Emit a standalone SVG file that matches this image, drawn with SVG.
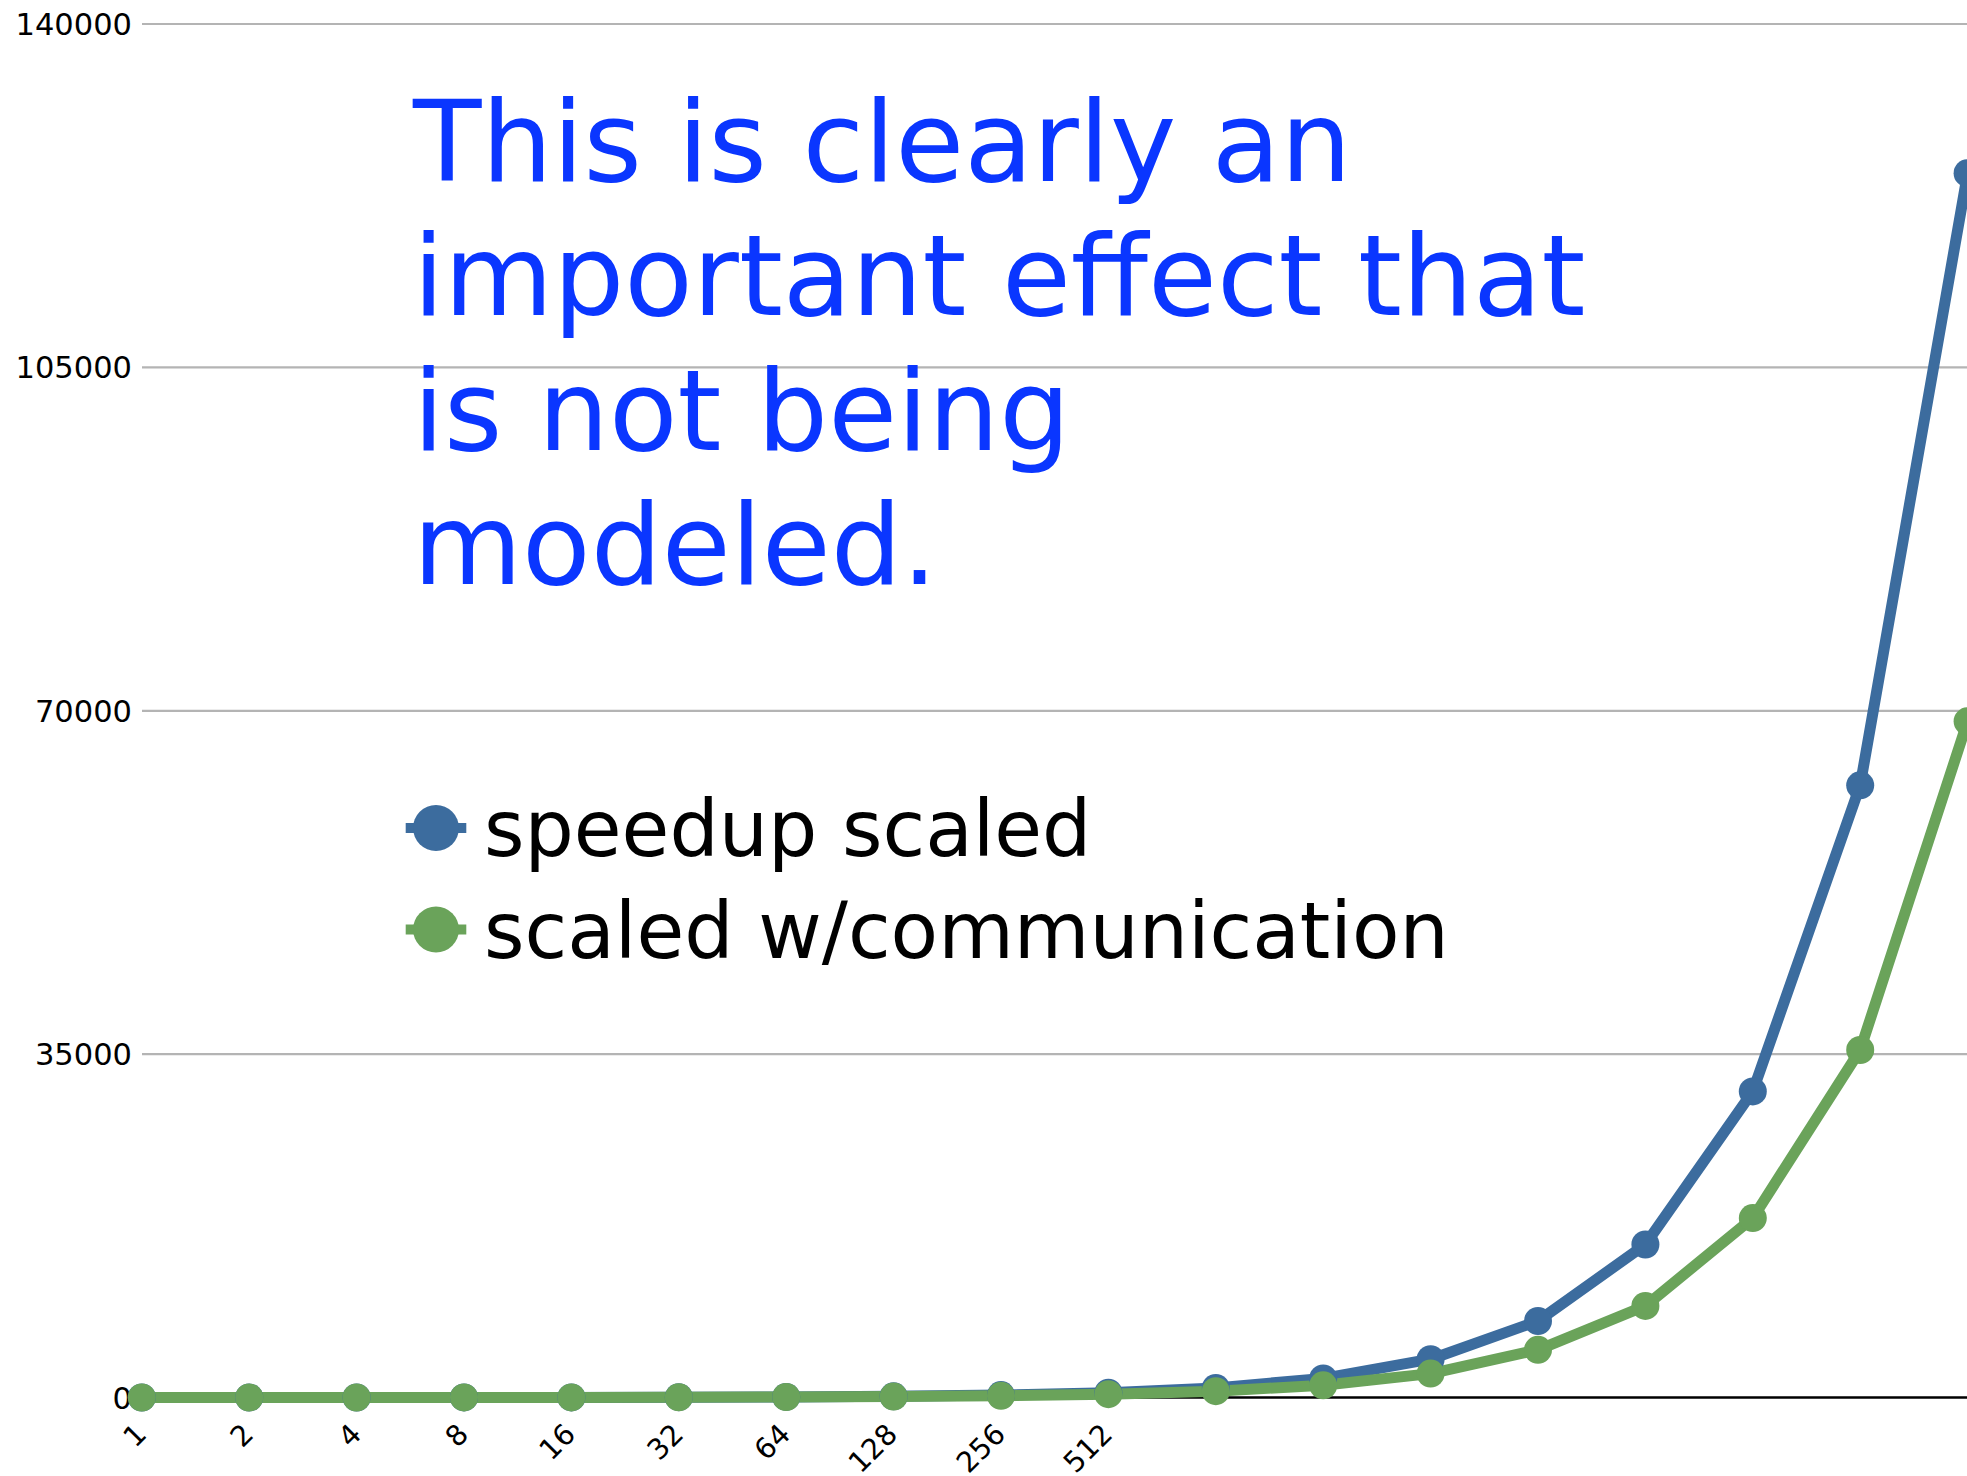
<svg xmlns="http://www.w3.org/2000/svg" width="1967" height="1476" viewBox="0 0 1967 1476">
<style>
  .grid { stroke: #b4b4b4; stroke-width: 2.2; }
  .axis { stroke: #000; stroke-width: 2.5; }
  .ylab { font-family: "DejaVu Sans", sans-serif; font-size: 30.5px; fill: #000; text-anchor: end; }
  .xlab { font-family: "DejaVu Sans", sans-serif; font-size: 28.5px; fill: #000; text-anchor: end; }
  .title { font-family: "DejaVu Sans", sans-serif; font-size: 112px; fill: #0a36ff; }
  .leg { font-family: "DejaVu Sans", sans-serif; font-size: 77.7px; fill: #000; }
  .blue { stroke: #3c6c9e; fill: none; stroke-width: 11; stroke-linejoin: round; }
  .green { stroke: #6aa35a; fill: none; stroke-width: 11; stroke-linejoin: round; }
  .bm { fill: #3c6c9e; }
  .gm { fill: #6aa35a; }
</style>
<rect x="0" y="0" width="1967" height="1476" fill="#fff"/>
<g id="gridlines">
  <line class="grid" x1="142" y1="24" x2="1967" y2="24"/>
  <line class="grid" x1="142" y1="367.4" x2="1967" y2="367.4"/>
  <line class="grid" x1="142" y1="710.8" x2="1967" y2="710.8"/>
  <line class="grid" x1="142" y1="1054.1" x2="1967" y2="1054.1"/>
  <line class="axis" x1="142" y1="1397.5" x2="1967" y2="1397.5"/>
</g>
<g id="y-labels">
  <text class="ylab" x="132" y="35">140000</text>
  <text class="ylab" x="132" y="378.4">105000</text>
  <text class="ylab" x="132" y="721.8">70000</text>
  <text class="ylab" x="132" y="1065.1">35000</text>
  <text class="ylab" x="132" y="1408.5">0</text>
</g>
<g id="x-labels">
  <text class="xlab" transform="translate(148,1436) rotate(-45)">1</text>
  <text class="xlab" transform="translate(255,1436) rotate(-45)">2</text>
  <text class="xlab" transform="translate(363,1436) rotate(-45)">4</text>
  <text class="xlab" transform="translate(470,1436) rotate(-45)">8</text>
  <text class="xlab" transform="translate(577,1436) rotate(-45)">16</text>
  <text class="xlab" transform="translate(685,1436) rotate(-45)">32</text>
  <text class="xlab" transform="translate(792,1436) rotate(-45)">64</text>
  <text class="xlab" transform="translate(899,1436) rotate(-45)">128</text>
  <text class="xlab" transform="translate(1007,1436) rotate(-45)">256</text>
  <text class="xlab" transform="translate(1114,1436) rotate(-45)">512</text>
</g>
<g id="connectors">
  <polyline id="series-speedup" class="blue" points="141.8,1397.5 249.2,1397.5 356.6,1397.5 464,1397.4 571.4,1397.4 678.8,1397.2 786.2,1396.9 893.6,1396.3 1001,1395.1 1108.4,1392.7 1215.8,1387.9 1323.2,1378.4 1430.6,1359.2 1538,1321 1645.4,1244.5 1752.8,1091.4 1860.2,785.3 1967.6,173.2"/>
  <polyline id="series-comm" class="green" points="141.8,1397.5 249.2,1397.5 356.6,1397.5 464,1397.4 571.4,1397.4 678.8,1397.3 786.2,1397 893.6,1396.6 1001,1395.8 1108.4,1394.2 1215.8,1391.2 1323.2,1385.3 1430.6,1373.6 1538,1349.8 1645.4,1305.9 1752.8,1218.1 1860.2,1050 1967.6,721.3"/>
</g>
<g id="markers-speedup">
  <circle class="bm" cx="141.8" cy="1397.5" r="14"/>
  <circle class="bm" cx="249.2" cy="1397.5" r="14"/>
  <circle class="bm" cx="356.6" cy="1397.5" r="14"/>
  <circle class="bm" cx="464" cy="1397.4" r="14"/>
  <circle class="bm" cx="571.4" cy="1397.4" r="14"/>
  <circle class="bm" cx="678.8" cy="1397.2" r="14"/>
  <circle class="bm" cx="786.2" cy="1396.9" r="14"/>
  <circle class="bm" cx="893.6" cy="1396.3" r="14"/>
  <circle class="bm" cx="1001" cy="1395.1" r="14"/>
  <circle class="bm" cx="1108.4" cy="1392.7" r="14"/>
  <circle class="bm" cx="1215.8" cy="1387.9" r="14"/>
  <circle class="bm" cx="1323.2" cy="1378.4" r="14"/>
  <circle class="bm" cx="1430.6" cy="1359.2" r="14"/>
  <circle class="bm" cx="1538" cy="1321" r="14"/>
  <circle class="bm" cx="1645.4" cy="1244.5" r="14"/>
  <circle class="bm" cx="1752.8" cy="1091.4" r="14"/>
  <circle class="bm" cx="1860.2" cy="785.3" r="14"/>
  <circle class="bm" cx="1967.6" cy="173.2" r="14"/>
</g>
<g id="markers-comm">
  <circle class="gm" cx="141.8" cy="1397.5" r="14"/>
  <circle class="gm" cx="249.2" cy="1397.5" r="14"/>
  <circle class="gm" cx="356.6" cy="1397.5" r="14"/>
  <circle class="gm" cx="464" cy="1397.4" r="14"/>
  <circle class="gm" cx="571.4" cy="1397.4" r="14"/>
  <circle class="gm" cx="678.8" cy="1397.3" r="14"/>
  <circle class="gm" cx="786.2" cy="1397" r="14"/>
  <circle class="gm" cx="893.6" cy="1396.6" r="14"/>
  <circle class="gm" cx="1001" cy="1395.8" r="14"/>
  <circle class="gm" cx="1108.4" cy="1394.2" r="14"/>
  <circle class="gm" cx="1215.8" cy="1391.2" r="14"/>
  <circle class="gm" cx="1323.2" cy="1385.3" r="14"/>
  <circle class="gm" cx="1430.6" cy="1373.6" r="14"/>
  <circle class="gm" cx="1538" cy="1349.8" r="14"/>
  <circle class="gm" cx="1645.4" cy="1305.9" r="14"/>
  <circle class="gm" cx="1752.8" cy="1218.1" r="14"/>
  <circle class="gm" cx="1860.2" cy="1050" r="14"/>
  <circle class="gm" cx="1967.6" cy="721.3" r="14"/>
</g>
<g id="title">
  <text class="title" x="413" y="181">This is clearly an</text>
  <text class="title" x="413" y="315.4">important effect that</text>
  <text class="title" x="413" y="449.8">is not being</text>
  <text class="title" x="413" y="584.2">modeled.</text>
</g>
<g id="legend">
  <g id="legend-speedup">
    <line x1="405.7" y1="828" x2="466.3" y2="828" stroke="#3c6c9e" stroke-width="10"/>
    <circle class="bm" cx="436" cy="828" r="23"/>
    <text class="leg" x="484" y="856">speedup scaled</text>
  </g>
  <g id="legend-comm">
    <line x1="405.7" y1="929.5" x2="466.3" y2="929.5" stroke="#6aa35a" stroke-width="10"/>
    <circle class="gm" cx="436" cy="929.5" r="23"/>
    <text class="leg" x="484" y="957.5">scaled w/communication</text>
  </g>
</g>
</svg>
